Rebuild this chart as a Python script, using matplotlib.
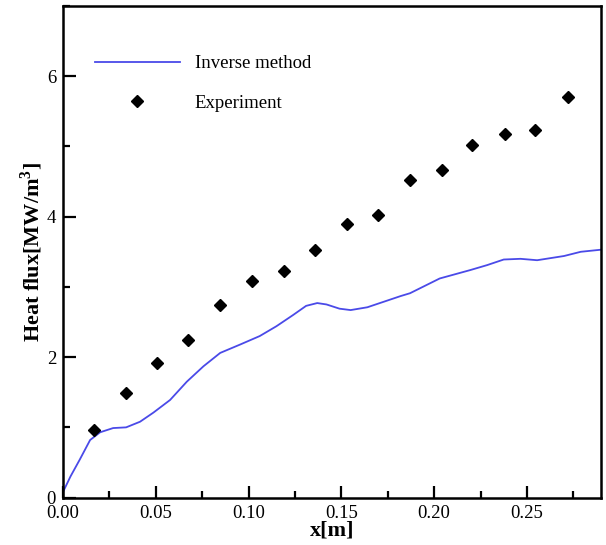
import numpy as np
import matplotlib
matplotlib.use("Agg")
import matplotlib.pyplot as plt
from matplotlib.ticker import MultipleLocator

plt.rcParams['font.family'] = ['Liberation Serif', 'DejaVu Serif']
plt.rcParams['mathtext.fontset'] = 'custom'
plt.rcParams['mathtext.rm'] = 'Liberation Serif'
plt.rcParams['mathtext.bf'] = 'Liberation Serif:bold'

# inverse method result
x_inv = [0.0, 0.004, 0.009, 0.0146, 0.020, 0.027, 0.034, 0.0415, 0.0487,
         0.0577, 0.0667, 0.0757, 0.0847, 0.0955, 0.106, 0.115, 0.124, 0.131,
         0.137, 0.142, 0.149, 0.155, 0.164, 0.173, 0.182, 0.187, 0.203,
         0.2195, 0.2285, 0.2375, 0.2465, 0.2555, 0.270, 0.279, 0.290]
q_inv = [0.08, 0.30, 0.54, 0.82, 0.93, 0.99, 1.00, 1.08, 1.21,
         1.39, 1.65, 1.87, 2.06, 2.18, 2.30, 2.44, 2.60, 2.73,
         2.77, 2.75, 2.69, 2.67, 2.71, 2.79, 2.87, 2.91, 3.12,
         3.24, 3.31, 3.39, 3.40, 3.38, 3.44, 3.50, 3.53]

# measured values
x_exp = [0.0165, 0.034, 0.0505, 0.0675, 0.0845, 0.1017, 0.119, 0.136,
         0.153, 0.170, 0.187, 0.204, 0.2205, 0.238, 0.2545, 0.272]
q_exp = [0.965, 1.49, 1.92, 2.25, 2.74, 3.08, 3.23, 3.52,
         3.90, 4.03, 4.52, 4.67, 5.02, 5.18, 5.24, 5.71]

fig = plt.figure(figsize=(6.06, 5.45), dpi=100)
ax = fig.add_axes([0.104, 0.087, 0.888, 0.902])

ax.plot(x_inv, q_inv, '-', color='#4a4ae8', lw=1.3, label='Inverse method')
ax.plot(x_exp, q_exp, 'D', color='black', ms=6, ls='none', label='Experiment')

ax.set_xlim(0, 0.29)
ax.set_ylim(0, 7)
ax.xaxis.set_major_locator(MultipleLocator(0.05))
ax.xaxis.set_minor_locator(MultipleLocator(0.025))
ax.yaxis.set_major_locator(MultipleLocator(2))
ax.yaxis.set_minor_locator(MultipleLocator(1))
ax.xaxis.set_major_formatter(plt.FormatStrFormatter('%.2f'))

ax.tick_params(which='both', direction='in', width=1.6, labelsize=13.5,
               top=False, right=False, pad=5)
ax.tick_params(which='major', length=9)
ax.tick_params(which='minor', length=5)
for s in ax.spines.values():
    s.set_linewidth(1.8)

ax.set_xlabel('x[m]', fontsize=16, fontweight='bold', labelpad=-1)
ax.set_ylabel(r'Heat flux[MW/m$^\mathbf{3}$]', fontsize=16, fontweight='bold',
              labelpad=1)

ax.legend(loc='upper left', bbox_to_anchor=(0.06, 0.90), frameon=False,
          fontsize=13.5, handlelength=4.5, handletextpad=0.8,
          labelspacing=1.2, borderpad=0, borderaxespad=0)

fig.savefig('out.png', dpi=100)
